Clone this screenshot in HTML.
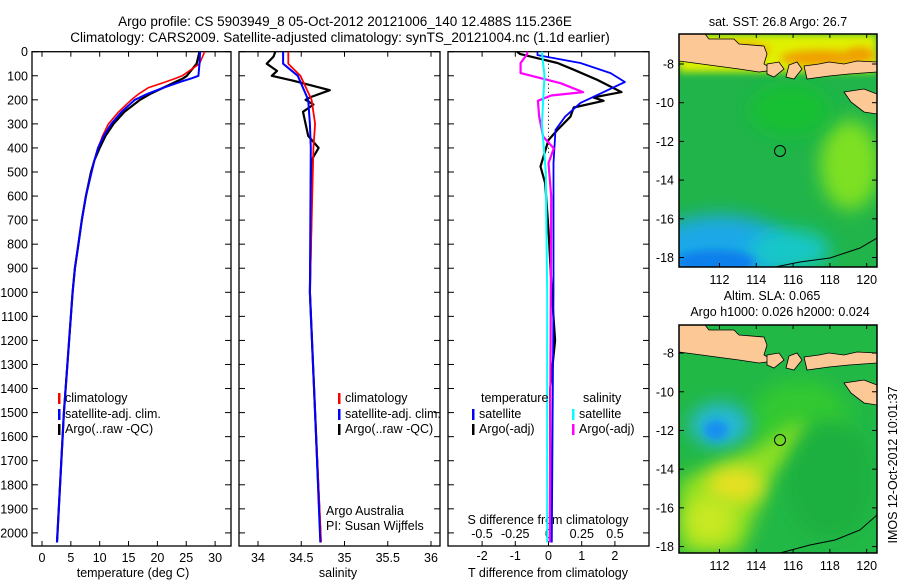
<!DOCTYPE html>
<html><head><meta charset="utf-8">
<style>
html,body{margin:0;padding:0;background:#fff;}
svg{display:block;font-family:"Liberation Sans",sans-serif;}
text{fill:#000;}
</style></head>
<body>
<svg id="chart" width="900" height="580" viewBox="0 0 900 580" xmlns="http://www.w3.org/2000/svg">
<defs>
<filter id="bl" x="-50%" y="-50%" width="200%" height="200%"><feGaussianBlur stdDeviation="9"/></filter>
<filter id="bl2" x="-50%" y="-50%" width="200%" height="200%"><feGaussianBlur stdDeviation="4"/></filter>
<clipPath id="c1"><rect x="679" y="34" width="198" height="233"/></clipPath>
<clipPath id="c2"><rect x="679" y="325" width="198" height="228"/></clipPath>
</defs>
<text x="345" y="26" font-size="13.5" text-anchor="middle">Argo profile: CS 5903949_8 05-Oct-2012 20121006_140 12.488S 115.236E</text>
<text x="340" y="42" font-size="13.5" text-anchor="middle">Climatology: CARS2009. Satellite-adjusted climatology: synTS_20121004.nc (1.1d earlier)</text>

<!-- top map -->
<g clip-path="url(#c1)">
<rect x="679" y="34" width="198" height="233" fill="#20b44a"/>
<ellipse cx="850" cy="165" rx="30" ry="45" fill="#7ee024" filter="url(#bl)"/>
<ellipse cx="790" cy="110" rx="40" ry="25" fill="#18c030" filter="url(#bl)"/>
<ellipse cx="720" cy="250" rx="70" ry="35" fill="#1aa8e8" filter="url(#bl)"/>
<ellipse cx="790" cy="250" rx="40" ry="20" fill="#18c8c8" filter="url(#bl)"/>
<ellipse cx="715" cy="262" rx="40" ry="12" fill="#0a80ec" filter="url(#bl2)"/>
<rect x="679" y="34" width="198" height="38" fill="#e0f000" filter="url(#bl2)"/>
<ellipse cx="820" cy="58" rx="40" ry="8" fill="#f0a000" filter="url(#bl2)"/>
<ellipse cx="740" cy="50" rx="30" ry="8" fill="#f0b000" filter="url(#bl2)"/>
<ellipse cx="860" cy="55" rx="15" ry="8" fill="#f0a000" filter="url(#bl2)"/>
<g id="land1" transform="translate(679,34)"></g>
<path d="M775,267 L800,262 L830,258 L860,248 L877,238" fill="none" stroke="#000" stroke-width="1"/>
<circle cx="780" cy="151" r="5.5" fill="none" stroke="#000" stroke-width="1"/>
</g>
<rect x="679" y="34" width="198" height="233" fill="none" stroke="#000" stroke-width="1.5"/>
<text x="778" y="26" font-size="12.5" text-anchor="middle">sat. SST: 26.8 Argo: 26.7</text>

<!-- bottom map -->
<g clip-path="url(#c2)">
<rect x="679" y="325" width="198" height="228" fill="#22b846"/>
<ellipse cx="800" cy="420" rx="50" ry="40" fill="#30c830" filter="url(#bl)"/>
<ellipse cx="720" cy="425" rx="30" ry="22" fill="#28b8d8" filter="url(#bl)"/>
<ellipse cx="716" cy="430" rx="12" ry="10" fill="#1890f0" filter="url(#bl2)"/>
<path d="M679,480 L730,460 L770,440 L800,420 L810,440 L770,480 L740,553 L679,553 Z" fill="#90e020" filter="url(#bl)"/>
<ellipse cx="735" cy="485" rx="28" ry="18" fill="#e8e020" filter="url(#bl)"/>
<ellipse cx="710" cy="520" rx="25" ry="25" fill="#c8e820" filter="url(#bl)"/>
<ellipse cx="830" cy="480" rx="45" ry="60" fill="#1eb040" filter="url(#bl)"/>
<g id="land2" transform="translate(679,325)"></g>
<path d="M780,553 L810,545 L835,540 L860,530 L877,515" fill="none" stroke="#000" stroke-width="1"/>
<circle cx="780" cy="440" r="5.5" fill="none" stroke="#000" stroke-width="1"/>
</g>
<rect x="679" y="325" width="198" height="228" fill="none" stroke="#000" stroke-width="1.5"/>
<text x="772" y="300" font-size="12.5" text-anchor="middle">Altim. SLA: 0.065</text>
<text x="780" y="316" font-size="12.5" text-anchor="middle">Argo h1000: 0.026 h2000: 0.024</text>
<text transform="translate(897,465) rotate(-90)" font-size="12.5" text-anchor="middle">IMOS 12-Oct-2012 10:01:37</text>
<g id="plots"></g>
</svg>
<script>
// ---- data ----
const depthT = [0, 50, 100, 110, 125, 150, 175, 200, 250, 300, 350, 400, 450, 500, 600, 700, 800, 900, 1000, 1500, 2040];
const tempClim = [28.2, 27.3, 24.3, 23.2, 21.5, 18.4, 16.8, 15.5, 13.3, 11.5, 10.5, 9.7, 9.1, 8.6, 7.6, 6.9, 6.3, 5.7, 5.3, 3.8, 2.6];
const tempSat = [27.4, 27.3, 27.1, 26.0, 24.0, 21.0, 18.3, 16.1, 13.8, 12.0, 10.7, 9.7, 9.1, 8.6, 7.6, 6.9, 6.3, 5.7, 5.3, 3.8, 2.6];
const tempArgo = [27.3, 26.8, 25.1, 24.5, 23.2, 21.0, 18.8, 17.0, 14.3, 12.4, 11.0, 10.0, 9.1, 8.5, 7.6, 6.9, 6.3, 5.7, 5.3, 3.8, 2.6];

const depthSc = [0, 50, 100, 200, 300, 400, 1000, 1500, 2040];
const salClim = [34.35, 34.35, 34.49, 34.62, 34.66, 34.64, 34.60, 34.66, 34.73];
const salSat = [34.29, 34.29, 34.46, 34.58, 34.60, 34.61, 34.60, 34.66, 34.72];
const depthSa = [0, 20, 50, 80, 100, 120, 160, 190, 200, 220, 250, 350, 400, 450, 600, 1000, 1500, 2000];
const salArgo = [34.2, 34.18, 34.1, 34.22, 34.16, 34.4, 34.83, 34.6, 34.55, 34.64, 34.52, 34.58, 34.7, 34.62, 34.62, 34.6, 34.66, 34.72];

const depthDT = [0, 14, 47, 89, 126, 168, 213, 270, 325, 463, 1000, 2040];
const dTsat = [-0.33, -0.33, 0.96, 1.87, 2.3, 1.66, 0.96, 0.5, 0.21, 0.15, 0.15, 0.1];
const depthDTa = [0, 10, 30, 47, 75, 117, 168, 190, 204, 232, 270, 325, 367, 477, 547, 740, 1000, 1200, 1400, 2040];
const dTargo = [-0.95, -0.85, -0.24, 0.27, 0.76, 1.47, 2.2, 1.35, 1.66, 0.76, 0.66, 0.27, 0.0, -0.24, -0.1, 0.0, 0.1, 0.2, 0.05, 0.05];
const depthDS = [0, 10, 47, 89, 131, 168, 182, 204, 270, 353, 402, 463, 602, 2040];
const dSargo = [-0.16, -0.16, -0.21, -0.21, 0.09, 0.26, 0.02, -0.08, -0.07, -0.04, 0.04, 0.0, 0.02, 0.01];
const depthDSs = [0, 100, 300, 500, 1000, 2040];
const dSsat = [-0.05, -0.03, -0.05, -0.02, -0.01, -0.01];

const depthTicks = [0,100,200,300,400,500,600,700,800,900,1000,1100,1200,1300,1400,1500,1600,1700,1800,1900,2000];
const tTicks = [0,5,10,15,20,25,30];
const sTicks = [34,34.5,35,35.5,36];
const dtTicks = [-2,-1,0,1,2];
const dsTicks = [-0.5,-0.25,0,0.25,0.5];
const latTicks = [-8,-10,-12,-14,-16,-18];
const lonTicks = [112,114,116,118,120];

// ---- scales ----
const yD = d => 51.7 + d*0.2406;
const xT = v => 42 + v*5.77;
const xS = v => 258 + (v-34)*86.5;
const xDT = v => 548.5 + v*33.2;
const xDS = v => 548.5 + v*133;
const TOP=51.7, BOT=546;
const NS='http://www.w3.org/2000/svg';
const root=document.getElementById('plots');
function el(tag, attrs, parent, txt){const e=document.createElementNS(NS,tag);for(const k in attrs)e.setAttribute(k,attrs[k]);if(txt!==undefined)e.textContent=txt;(parent||root).appendChild(e);return e;}
function line(xs, ys, xf, color, w, name){
  let pts=[];for(let i=0;i<xs.length;i++)pts.push(xf(xs[i]).toFixed(1)+','+yD(ys[i]).toFixed(1));
  const p=el('polyline',{points:pts.join(' '),fill:'none',stroke:color,'stroke-width':w,'stroke-linejoin':'round'});
  
  
}
function panel(x0,x1,name){
  const r=el('rect',{x:x0,y:TOP,width:x1-x0,height:BOT-TOP,fill:'none',stroke:'#000','stroke-width':1.3});
  
  
  depthTicks.forEach(d=>{el('line',{x1:x0,x2:x0+6,y1:yD(d),y2:yD(d),stroke:'#000'});el('line',{x1:x1-6,x2:x1,y1:yD(d),y2:yD(d),stroke:'#000'});});
}
function xticks(vals, f, y, name, top){
  vals.forEach(v=>{
    const x=f(v);
    if(top!==false){el('line',{x1:x,x2:x,y1:TOP,y2:TOP+5,stroke:'#000'});}
    el('line',{x1:x,x2:x,y1:BOT-5,y2:BOT,stroke:'#000'});
    const t=el('text',{x:x,y:y,'font-size':12.5,'text-anchor':'middle'},root,String(v));
    
    
  });
}
// depth labels
depthTicks.forEach(d=>{const t=el('text',{x:28,y:yD(d)+4.5,'font-size':12.5,'text-anchor':'end'},root,String(d));
  
  });

panel(32,231,'temperature-panel');
panel(239,440,'salinity-panel');
panel(448,649,'difference-panel');
xticks(tTicks,xT,562,'temperature-tick-label');
xticks(sTicks,xS,562,'salinity-tick-label');
xticks(dtTicks,xDT,560,'t-diff-tick-label');
dsTicks.forEach(v=>{const t=el('text',{x:xDS(v),y:538,'font-size':12.5,'text-anchor':'middle'},root,String(v));
  
  });

function lbl(x,y,s,name,anchor){const t=el('text',{x:x,y:y,'font-size':12.5,'text-anchor':anchor||'middle'},root,s);
  
  }
lbl(133,577,'temperature (deg C)','temperature-axis-title');
lbl(338,577,'salinity','salinity-axis-title');
lbl(548,577,'T difference from climatology','t-diff-axis-title');
lbl(548,524,'S difference from climatology','s-diff-axis-title');
lbl(326,515,'Argo Australia','argo-australia-label','start');
lbl(326,530,'PI: Susan Wijffels','pi-label','start');

// zero dotted line
el('line',{x1:xDT(0),x2:xDT(0),y1:TOP,y2:yD(420),stroke:'#000','stroke-dasharray':'1,3'});

// temperature
line(tempArgo,depthT,xT,'#000',2.2,'argo-temperature-line');
line(tempClim,depthT,xT,'#f00',1.6,'climatology-temperature-line');
line(tempSat,depthT,xT,'#00f',2,'satellite-temperature-line');
// salinity
line(salArgo,depthSa,xS,'#000',2.2,'argo-salinity-line');
line(salClim,depthSc,xS,'#f00',1.8,'climatology-salinity-line');
line(salSat,depthSc,xS,'#00f',2,'satellite-salinity-line');
// differences
line(dTargo,depthDTa,xDT,'#000',2.2,'argo-t-diff-line');
line(dTsat,depthDT,xDT,'#00f',1.8,'satellite-t-diff-line');
line(dSargo,depthDS,xDS,'#f0f',2.2,'argo-s-diff-line');
line(dSsat,depthDSs,xDS,'#0ff',2,'satellite-s-diff-line');

// legends
function leg(x,y,color,s,name){
  const m=el('rect',{x:x,y:y-9,width:2.5,height:11,fill:color});
  
  
  const t=el('text',{x:x+7,y:y,'font-size':12.5},root,s);
  
  
}
leg(58,402,'#f00','climatology','legend-climatology');
leg(58,418,'#00f','satellite-adj. clim.','legend-satellite-adj');
leg(58,433,'#000','Argo(..raw -QC)','legend-argo');
leg(338,402,'#f00','climatology','legend-climatology-2');
leg(338,418,'#00f','satellite-adj. clim.','legend-satellite-adj-2');
leg(338,433,'#000','Argo(..raw -QC)','legend-argo-2');
lbl(481,402,'temperature','legend-temperature-heading','start');
lbl(583,402,'salinity','legend-salinity-heading','start');
leg(472,418,'#00f','satellite','legend-t-satellite');
leg(472,433,'#000','Argo(-adj)','legend-t-argo');
leg(572,418,'#0ff','satellite','legend-s-satellite');
leg(572,433,'#f0f','Argo(-adj)','legend-s-argo');

// maps
const lonX = v => 679 + (v-109.8)*18.4;
function mapAxes(top, bottom, latTop, lbY){
  const latY = v => top + (latTop - v)*19.35;
  latTicks.forEach(v=>{const y=latY(v);
    el('line',{x1:679,x2:684,y1:y,y2:y,stroke:'#000'});el('line',{x1:872,x2:877,y1:y,y2:y,stroke:'#000'});
    const t=el('text',{x:674,y:y+4.5,'font-size':12.5,'text-anchor':'end'},root,String(v));
    
    });
  lonTicks.forEach(v=>{const x=lonX(v);
    el('line',{x1:x,x2:x,y1:top,y2:top+4,stroke:'#000'});el('line',{x1:x,x2:x,y1:bottom-4,y2:bottom,stroke:'#000'});
    const t=el('text',{x:x,y:lbY,'font-size':12.5,'text-anchor':'middle'},root,String(v));
    
    });
}
mapAxes(34,267,-6.45,284);
mapAxes(325,553,-6.55,570);

const landPolys=[
 "0,0 26,0 30,5 55,5 60,10 85,12 88,20 85,30 95,36 80,38 60,35 30,31 0,27",
 "88,30 100,28 105,35 95,43 88,40",
 "110,31 118,28 123,35 115,45 107,43",
 "125,32 140,30 150,28 165,30 178,27 198,28 198,38 170,40 150,42 128,45",
 "165,58 185,55 198,60 198,80 185,78 172,68"];
['land1','land2'].forEach(id=>{const g=document.getElementById(id);
  landPolys.forEach(p=>{const e=el('polygon',{points:p,fill:'#fbc896',stroke:'#000','stroke-width':0.8},g);
    
    });});
</script>
</body></html>
